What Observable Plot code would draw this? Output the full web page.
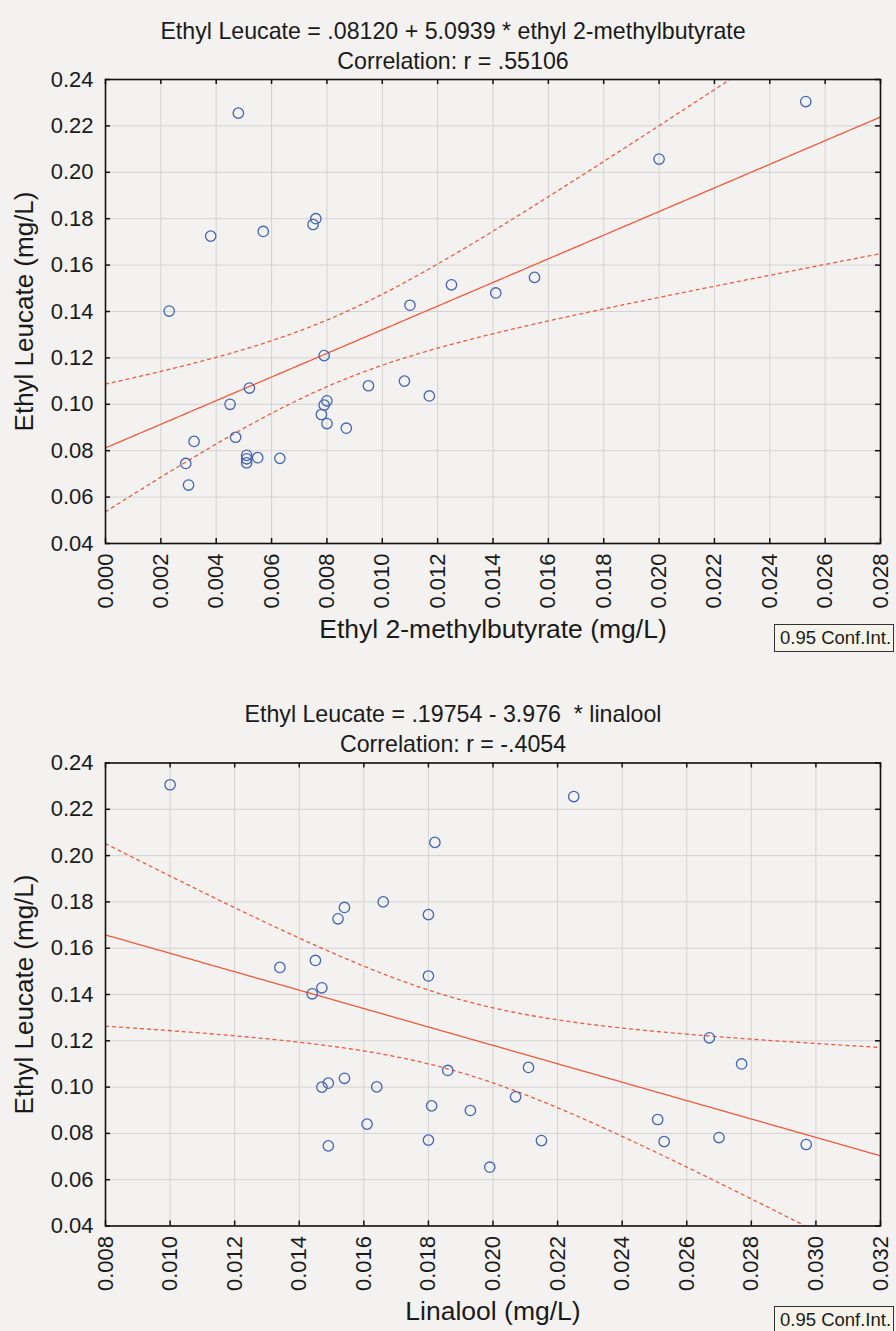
<!DOCTYPE html>
<html><head><meta charset="utf-8">
<script src="https://cdn.jsdelivr.net/npm/d3@7"></script>
<script src="https://cdn.jsdelivr.net/npm/@observablehq/plot@0.6"></script>
<style>
html,body{margin:0;padding:0;background:#f3f2f0;}
#wrap{position:relative;width:896px;height:1331px;overflow:hidden;font-family:"Liberation Sans",Arial,sans-serif;background:#f3f2f0;}
.chart{position:absolute;left:0;}
.legend{position:absolute;left:774px;width:120px;height:28px;box-sizing:border-box;border:1.5px solid #333;background:#f6f4ea;font-size:18.5px;line-height:25px;padding-left:5px;color:#1a1a1a;white-space:nowrap;}
</style></head>
<body><div id="wrap">
<div id="c1" class="chart" style="top:0"></div>
<div id="c2" class="chart" style="top:665px"></div>
<div class="legend" style="top:624px">0.95 Conf.Int.</div>
<div class="legend" style="top:1306px">0.95 Conf.Int.</div>
</div>
<script>
// ---- Data: top chart (ethyl 2-methylbutyrate vs ethyl leucate, mg/L)
const ethyl2mb = [0.0048,0.0023,0.0038,0.0057,0.0075,0.0076,0.0110,0.0125,0.0141,0.0079,0.0155,0.0200,0.0253,
  0.0052,0.0045,0.0095,0.0108,0.0117,0.0080,0.0079,0.0078,0.0080,0.0087,0.0047,0.0032,0.0029,0.0030,0.0051,0.0051,0.0051,0.0055,0.0063];
const leucateTop = [0.2255,0.1402,0.1725,0.1745,0.1775,0.1800,0.1427,0.1515,0.1480,0.1210,0.1547,0.2057,0.2305,
  0.1070,0.1000,0.1080,0.1100,0.1036,0.1015,0.0997,0.0956,0.0917,0.0897,0.0858,0.0840,0.0745,0.0652,0.0780,0.0765,0.0748,0.0770,0.0767];
// ---- Data: bottom chart (linalool vs ethyl leucate, mg/L)
const linalool = [0.0100,0.0182,0.0154,0.0152,0.0166,0.0180,0.0134,0.0145,0.0180,0.0147,0.0144,
  0.0225,0.0267,0.0277,0.0211,0.0207,0.0251,0.0215,0.0253,0.0270,0.0297,0.0199,
  0.0186,0.0147,0.0149,0.0154,0.0164,0.0181,0.0193,0.0161,0.0180,0.0149];
const leucateBottom = [0.2306,0.2057,0.1776,0.1727,0.1800,0.1745,0.1517,0.1547,0.1480,0.1429,0.1403,
  0.2255,0.1213,0.1100,0.1085,0.0958,0.0860,0.0769,0.0765,0.0782,0.0752,0.0654,
  0.1072,0.1000,0.1017,0.1038,0.1001,0.0919,0.0899,0.0840,0.0771,0.0746];
// ---- Regression coefficients (from chart titles)
const fitTop = [0.08120, 5.0939];
const fitBottom = [0.19754, -3.976];
// ---- Axes
const xTicksTop = d3.range(0, 15).map(i => i * 0.002);
const xTicksBottom = d3.range(4, 17).map(i => i * 0.002);
const yTicks = d3.range(2, 13).map(i => i * 0.02);
const titlesTop = ["Ethyl Leucate = .08120 + 5.0939 * ethyl 2-methylbutyrate", "Correlation: r = .55106"];
const titlesBottom = ["Ethyl Leucate = .19754 - 3.976\u00a0 * linalool", "Correlation: r = -.4054"];
const xLabelTop = "Ethyl 2-methylbutyrate (mg/L)";
const xLabelBottom = "Linalool (mg/L)";
const yLabel = "Ethyl Leucate (mg/L)";

const RED = "#ef5a3c", BLUE = "#4364b2";
const FONT = "'Liberation Sans', Arial, sans-serif";

function band(xs, ys, [a, b], domain) {
  const n = xs.length;
  const xbar = d3.mean(xs);
  const sxx = d3.sum(xs, x => (x - xbar) ** 2);
  const sse = d3.sum(xs, (x, i) => (ys[i] - (a + b * x)) ** 2);
  const s = Math.sqrt(sse / (n - 2));
  const t = 2.042;
  return d3.range(0, 201).map(i => {
    const x = domain[0] + (domain[1] - domain[0]) * i / 200;
    const yh = a + b * x;
    const h = t * s * Math.sqrt(1 / n + (x - xbar) ** 2 / sxx);
    return {x, yh, lo: yh - h, hi: yh + h};
  });
}

function chart({xs, ys, fit, xTicks, titles, xLabel, height, marginTop, marginBottom}) {
  const marginLeft = 105, marginRight = 16, W = 896;
  const FH = height - marginTop - marginBottom;
  const FW = W - marginLeft - marginRight;
  const xDomain = [xTicks[0], xTicks[xTicks.length - 1]];
  const pts = xs.map((x, i) => ({x, y: ys[i]}));
  const bd = band(xs, ys, fit, xDomain);
  return Plot.plot({
    width: W, height, marginLeft, marginRight, marginTop, marginBottom,
    style: {background: "transparent", fontFamily: FONT, color: "#1a1a1a", overflow: "visible"},
    x: {domain: xDomain},
    y: {domain: [0.04, 0.24]},
    marks: [
      Plot.gridX(xTicks, {stroke: "#d3d3d3", strokeOpacity: 1, strokeWidth: 1}),
      Plot.gridY(yTicks, {stroke: "#d3d3d3", strokeOpacity: 1, strokeWidth: 1}),
      Plot.tickX(xTicks, {x: d => d, insetTop: FH - 5, stroke: "#111", strokeWidth: 1.5}),
      Plot.tickX(xTicks, {x: d => d, insetBottom: FH - 5, stroke: "#111", strokeWidth: 1.5}),
      Plot.tickY(yTicks, {y: d => d, insetRight: FW - 5, stroke: "#111", strokeWidth: 1.5}),
      Plot.tickY(yTicks, {y: d => d, insetLeft: FW - 5, stroke: "#111", strokeWidth: 1.5}),
      Plot.line(bd, {x: "x", y: "hi", stroke: RED, strokeWidth: 1.3, strokeDasharray: "3,4", clip: true}),
      Plot.line(bd, {x: "x", y: "lo", stroke: RED, strokeWidth: 1.3, strokeDasharray: "3,4", clip: true}),
      Plot.line(bd, {x: "x", y: "yh", stroke: RED, strokeWidth: 1.3, clip: true}),
      Plot.dot(pts, {x: "x", y: "y", r: 5.2, stroke: BLUE, strokeWidth: 1.3, fill: "none"}),
      Plot.frame({stroke: "#111", strokeWidth: 1.6}),
      Plot.axisX(xTicks, {tickSize: 0, tickPadding: 10, tickRotate: -90, tickFormat: d3.format(".3f"), fontSize: 22, label: null}),
      Plot.axisY(yTicks, {tickSize: 0, tickPadding: 12, tickFormat: d3.format(".2f"), fontSize: 22, label: null}),
      Plot.text([xLabel], {frameAnchor: "bottom", dy: 94, fontSize: 26.5}),
      Plot.text([yLabel], {frameAnchor: "left", textAnchor: "middle", dx: -81, rotate: -90, fontSize: 26}),
      Plot.text([titles[0]], {frameAnchor: "top", dx: -40, dy: -57, fontSize: 23.2}),
      Plot.text([titles[1]], {frameAnchor: "top", dx: -40, dy: -27, fontSize: 23.2})
    ]
  });
}

document.getElementById("c1").append(chart({
  xs: ethyl2mb, ys: leucateTop, fit: fitTop, xTicks: xTicksTop, titles: titlesTop,
  xLabel: xLabelTop, height: 665, marginTop: 79, marginBottom: 122
}));
document.getElementById("c2").append(chart({
  xs: linalool, ys: leucateBottom, fit: fitBottom, xTicks: xTicksBottom, titles: titlesBottom,
  xLabel: xLabelBottom, height: 666, marginTop: 97.5, marginBottom: 105.5
}));
</script>
</body></html>
